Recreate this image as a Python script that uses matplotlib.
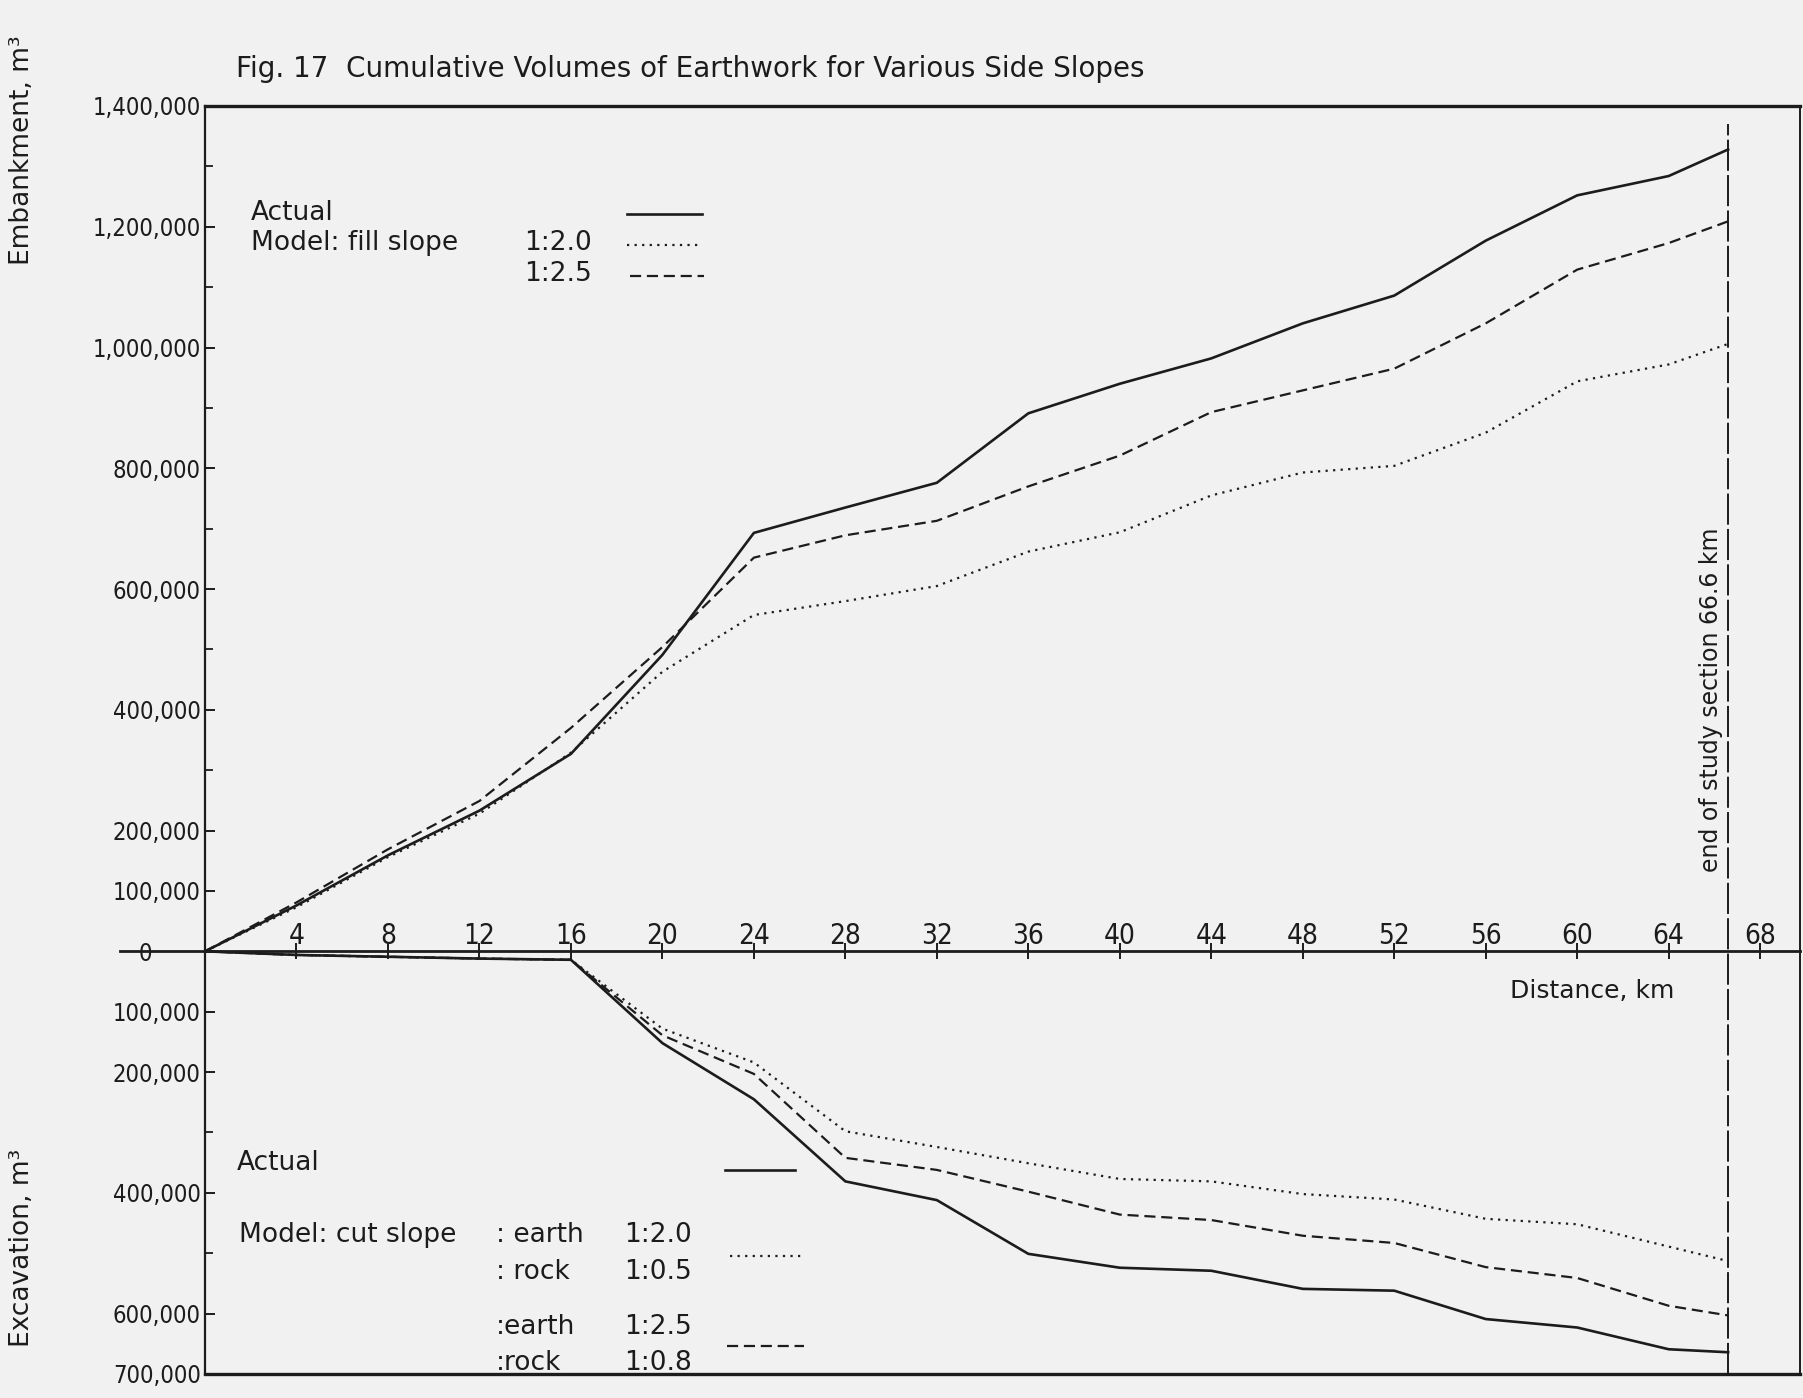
import matplotlib
matplotlib.use("Agg")
import matplotlib.pyplot as plt
from matplotlib.lines import Line2D
from matplotlib.ticker import FuncFormatter, FixedLocator
from matplotlib import font_manager as fm

# ---------------- data ----------------
km = [0, 4, 8, 12, 16, 20, 24, 28, 32, 36, 40, 44, 48, 52, 56, 60, 64, 66.6]

# Embankment (cumulative, m3)
emb_actual = [0, 76000, 159000, 233000, 327000, 491000, 693000, 735000, 776000,
              891000, 940000, 982000, 1040000, 1086000, 1177000, 1252000, 1284000, 1328000]
emb_fill_20 = [0, 73000, 156000, 228000, 329000, 463000, 557000, 580000, 605000,
               662000, 694000, 755000, 793000, 804000, 859000, 944000, 972000, 1006000]
emb_fill_25 = [0, 81000, 169000, 249000, 370000, 504000, 652000, 689000, 713000,
               770000, 821000, 893000, 929000, 965000, 1040000, 1129000, 1173000, 1209000]

# Excavation (cumulative, m3; plotted downward)
exc_actual = [0, 6000, 9000, 12000, 14000, 152000, 245000, 381000, 412000,
              501000, 524000, 529000, 559000, 562000, 609000, 623000, 659000, 664000]
exc_cut_20 = [0, 6000, 9000, 12000, 14000, 128000, 184000, 298000, 324000,
              351000, 377000, 381000, 402000, 411000, 443000, 452000, 489000, 513000]
exc_cut_25 = [0, 6000, 9000, 12000, 14000, 139000, 203000, 342000, 362000,
              398000, 436000, 445000, 471000, 483000, 523000, 541000, 587000, 603000]

x_ticks = [4, 8, 12, 16, 20, 24, 28, 32, 36, 40, 44, 48, 52, 56, 60, 64, 68]
y_major = [1400000, 1200000, 1000000, 800000, 600000, 400000, 200000, 100000, 0,
           -100000, -200000, -400000, -600000, -700000]
y_minor = [1300000, 1100000, 900000, 700000, 500000, 300000, -300000, -500000]
end_km = 66.6

# ---------------- styling ----------------
W, H = 1803, 1398
INK = "#1c1c1c"
BG = "#f1f1f1"
plt.rcParams["font.family"] = ["DejaVu Sans"]

# pick a narrow face for the numbers if one is installed
_fonts = fm.fontManager.ttflist
_names = {f.name for f in _fonts}
if "Liberation Sans Narrow" in _names:
    NUMPROP = dict(family="Liberation Sans Narrow")
    YSIZE, XSIZE = 18, 21
elif any(f.name == "DejaVu Sans" and "condensed" in str(f.stretch).lower()
         for f in _fonts):
    NUMPROP = dict(family="DejaVu Sans", stretch="condensed")
    YSIZE, XSIZE = 17, 20
else:
    NUMPROP = dict(family="DejaVu Sans")
    YSIZE, XSIZE = 15, 17

SOLID = dict(color=INK, lw=1.9, linestyle="-")
DOT = dict(color=INK, lw=1.6, linestyle=(0, (1, 2.4)))
DASH = dict(color=INK, lw=1.6, linestyle=(0, (5, 2.6)))

fig = plt.figure(figsize=(W / 100, H / 100), dpi=100, facecolor=BG)
ax = fig.add_axes([205 / W, 1 - 1374 / H, (1800 - 205) / W, (1374 - 106) / H])
ax.set_facecolor(BG)
px_per_km = 22.87
ax.set_xlim(0, (1800 - 205) / px_per_km)
ax.set_ylim(-700000, 1400000)

# series
exc_actual_neg = [-v for v in exc_actual]
exc_cut_20_neg = [-v for v in exc_cut_20]
exc_cut_25_neg = [-v for v in exc_cut_25]
ax.plot(km, emb_actual, **SOLID)
ax.plot(km, emb_fill_20, **DOT)
ax.plot(km, emb_fill_25, **DASH)
ax.plot(km, exc_actual_neg, **SOLID)
ax.plot(km, exc_cut_20_neg, **DOT)
ax.plot(km, exc_cut_25_neg, **DASH)

# end of study section line
ax.vlines(end_km, -700000, 1370000, color=INK, lw=1.4, linestyles=[(0, (16, 2.2))])

# spines / frame
for s in ("top", "left", "right"):
    ax.spines[s].set_color(INK)
ax.spines["top"].set_linewidth(2.4)
ax.spines["left"].set_linewidth(1.6)
ax.spines["right"].set_linewidth(1.4)
ax.spines["bottom"].set_position(("data", 0))
ax.spines["bottom"].set_linewidth(2.0)
ax.spines["bottom"].set_color(INK)
ax.axhline(-700000, color=INK, lw=2.4, clip_on=False)
ax.plot([-3.7, 0], [0, 0], color=INK, lw=2.0, clip_on=False)

# x ticks on the zero line, labels above it
ax.xaxis.set_major_locator(FixedLocator(x_ticks))
ax.xaxis.set_major_formatter(FuncFormatter(lambda v, p: f"{int(v)}"))
ax.tick_params(axis="x", direction="inout", length=12, width=1.4, color=INK,
               labelsize=XSIZE, pad=-27, labelcolor=INK)
for lab in ax.get_xticklabels():
    lab.set(**NUMPROP)

# y ticks
ax.yaxis.set_major_locator(FixedLocator(y_major))
ax.yaxis.set_minor_locator(FixedLocator(y_minor))
ax.yaxis.set_major_formatter(FuncFormatter(lambda v, p: f"{abs(int(round(v))):,}"))
ax.tick_params(axis="y", which="major", direction="in", length=7, width=1.4,
               color=INK, labelsize=YSIZE, pad=3, labelcolor=INK)
ax.tick_params(axis="y", which="minor", direction="in", length=6, width=1.3, color=INK)
for lab in ax.get_yticklabels():
    lab.set(**NUMPROP)
for tick, loc in zip(ax.yaxis.get_major_ticks(), ax.yaxis.get_majorticklocs()):
    if loc == 0:
        tick.set_pad(38)


def ft(x, y, s, **kw):
    kw.setdefault("color", INK)
    kw.setdefault("va", "center")
    fig.text(x / W, 1 - y / H, s, **kw)


def key(x0, x1, y, style):
    fig.add_artist(Line2D([x0 / W, x1 / W], [1 - y / H, 1 - y / H],
                          transform=fig.transFigure, **style))


# title and axis labels
ft(236, 69, "Fig. 17  Cumulative Volumes of Earthwork for Various Side Slopes",
   fontsize=20, ha="left")
ft(22, 150, "Embankment, m³", fontsize=19, rotation=90, ha="center")
ft(22, 1248, "Excavation, m³", fontsize=19, rotation=90, ha="center")
ft(1592, 991, "Distance, km", fontsize=18, ha="center")
ft(1711, 700, "end of study section 66.6 km", fontsize=17, rotation=90, ha="center")

# upper legend
LF = 19
ft(251, 213, "Actual", fontsize=LF, ha="left")
ft(251, 243, "Model: fill slope", fontsize=LF, ha="left")
ft(592, 243, "1:2.0", fontsize=LF, ha="right")
ft(592, 274, "1:2.5", fontsize=LF, ha="right")
key(627, 702, 214, SOLID)
key(627, 702, 245, DOT)
key(630, 704, 276, DASH)

# lower legend
ft(237, 1163, "Actual", fontsize=LF, ha="left")
ft(239, 1235, "Model: cut slope", fontsize=LF, ha="left")
ft(496, 1235, ": earth", fontsize=LF, ha="left")
ft(692, 1235, "1:2.0", fontsize=LF, ha="right")
ft(496, 1272, ": rock", fontsize=LF, ha="left")
ft(692, 1272, "1:0.5", fontsize=LF, ha="right")
ft(496, 1327, ":earth", fontsize=LF, ha="left")
ft(692, 1327, "1:2.5", fontsize=LF, ha="right")
ft(496, 1363, ":rock", fontsize=LF, ha="left")
ft(692, 1363, "1:0.8", fontsize=LF, ha="right")
key(725, 795, 1170, SOLID)
key(730, 801, 1256, DOT)
key(727, 804, 1346, DASH)

fig.savefig("out.png", dpi=100, facecolor=BG)
